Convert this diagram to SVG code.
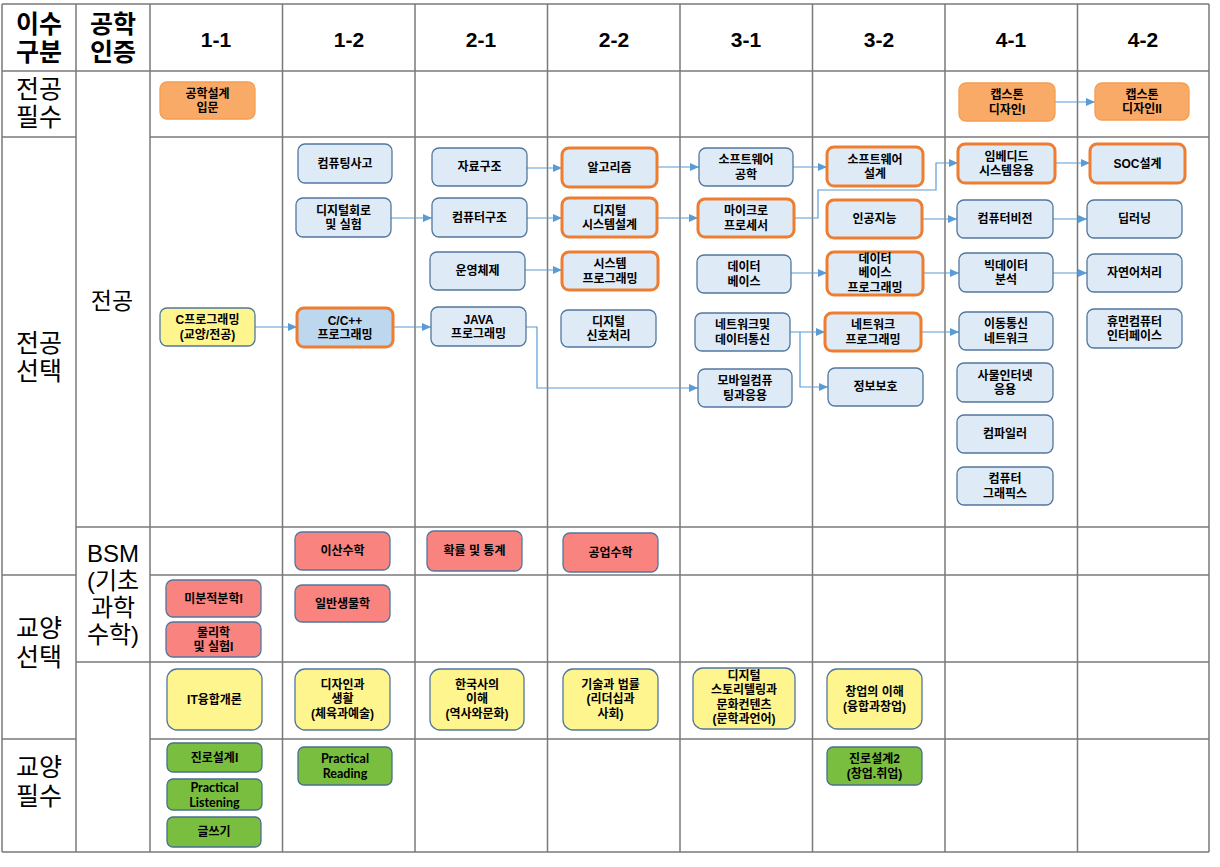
<svg xmlns="http://www.w3.org/2000/svg" width="1220" height="867" viewBox="0 0 1220 867">
<style>
.grid{stroke:#7a7a7a;stroke-width:1.5;fill:none}
.hdr{font-family:"Liberation Sans","Noto Sans CJK KR",sans-serif;font-weight:bold;fill:#000;text-anchor:middle}
.lbl{font-family:"Liberation Sans","Noto Sans CJK KR",sans-serif;font-weight:normal;fill:#000;text-anchor:middle}
.t{font-family:"Liberation Sans","Noto Sans CJK KR",sans-serif;font-weight:bold;font-size:12px;fill:#000;text-anchor:middle}
.te{font-family:Lato,"Liberation Sans",sans-serif;font-weight:bold;font-size:12.5px;fill:#000;text-anchor:middle}
.blue{fill:#DEEBF7;stroke:#52779E;stroke-width:1.3}
.blueo{fill:#DEEBF7;stroke:#ED7D31;stroke-width:3}
.cpp{fill:#BDD7EE;stroke:#ED7D31;stroke-width:3}
.req{fill:#F9AA66;stroke:#F59D50;stroke-width:1.3}
.yel{fill:#FFF58F;stroke:#52779E;stroke-width:1.3}
.red{fill:#F9837F;stroke:#52779E;stroke-width:1.3}
.grn{fill:#79BE3F;stroke:#4A6F8F;stroke-width:1.3}
.conn path{fill:none;stroke:#5B9BD5;stroke-width:1.2;marker-end:url(#arr)}
</style>
<defs>
<marker id="arr" markerUnits="userSpaceOnUse" markerWidth="9" markerHeight="8" refX="9" refY="4" orient="auto">
<path d="M0,0 L9,4 L0,8 z" fill="#5B9BD5"/>
</marker>
</defs>
<rect x="0" y="0" width="1220" height="867" fill="#fff"/>
<g id="grid">
<path class="grid" d="M2,4 H1209 M2,71 H1209 M2,137 H76 M150,137 H1209 M76,527 H1209 M2,575 H76 M150,575 H1209 M76,662 H1209 M2,739 H76 M150,739 H1209 M2,852 H1209"/>
<path class="grid" d="M2,4 V852 M76,4 V852 M150,4 V852 M282.5,4 V852 M415,4 V852 M547.5,4 V852 M680,4 V852 M812.5,4 V852 M945,4 V852 M1077.5,4 V852 M1209,4 V852"/>
</g>
<g id="headers">
<text class="hdr" font-size="25" x="39" y="33">이수</text>
<text class="hdr" font-size="25" x="39" y="61">구분</text>
<text class="hdr" font-size="25" x="113" y="33">공학</text>
<text class="hdr" font-size="25" x="113" y="61">인증</text>
<text class="hdr" font-size="21" x="216" y="47">1-1</text>
<text class="hdr" font-size="21" x="349" y="47">1-2</text>
<text class="hdr" font-size="21" x="481" y="47">2-1</text>
<text class="hdr" font-size="21" x="614" y="47">2-2</text>
<text class="hdr" font-size="21" x="746" y="47">3-1</text>
<text class="hdr" font-size="21" x="879" y="47">3-2</text>
<text class="hdr" font-size="21" x="1011" y="47">4-1</text>
<text class="hdr" font-size="21" x="1143" y="47">4-2</text>
</g>
<g id="row-labels">
<text class="lbl" font-size="25" x="39" y="98">전공</text>
<text class="lbl" font-size="25" x="39" y="126">필수</text>
<text class="lbl" font-size="25" x="39" y="352">전공</text>
<text class="lbl" font-size="25" x="39" y="380">선택</text>
<text class="lbl" font-size="25" x="39" y="637">교양</text>
<text class="lbl" font-size="25" x="39" y="666">선택</text>
<text class="lbl" font-size="25" x="39" y="776">교양</text>
<text class="lbl" font-size="25" x="39" y="805">필수</text>
<text class="lbl" font-size="23" x="112" y="309">전공</text>
<text class="lbl" font-size="24" x="113" y="562">BSM</text>
<text class="lbl" font-size="24" x="113" y="589">(기초</text>
<text class="lbl" font-size="24" x="113" y="616">과학</text>
<text class="lbl" font-size="24" x="113" y="643">수학)</text>
</g>
<g id="connectors" class="conn">
<path d="M1055,102 H1095"/>
<path d="M255,327 H297"/>
<path d="M391,218 H432"/>
<path d="M393,327 H431"/>
<path d="M527,168 H562"/>
<path d="M527,218 H562"/>
<path d="M525,270 H562"/>
<path d="M526,327 H537 V388 H698"/>
<path d="M657,167 H699"/>
<path d="M657,218 H698"/>
<path d="M793,167 H827"/>
<path d="M794,218 H818 V190 H936 V163 H958"/>
<path d="M791,273 H827"/>
<path d="M790,332 H825"/>
<path d="M800,332 V387 H828"/>
<path d="M922,219 H957"/>
<path d="M923,273 H959"/>
<path d="M921,332 H959"/>
<path d="M1055,163 H1090"/>
<path d="M1053,219 H1087"/>
<path d="M1053,273 H1087"/>
</g>
<g id="n01"><rect class="req" x="160" y="82" width="95" height="37" rx="7"/><text class="t"><tspan x="207.5" y="97.5">공학설계</tspan><tspan x="207.5" y="112">입문</tspan></text></g>
<g id="n02"><rect class="req" x="959" y="83" width="96" height="38" rx="7"/><text class="t"><tspan x="1007" y="99">캡스톤</tspan><tspan x="1007" y="113.5">디자인I</tspan></text></g>
<g id="n03"><rect class="req" x="1095" y="83" width="94" height="37" rx="7"/><text class="t"><tspan x="1142" y="98.5">캡스톤</tspan><tspan x="1142" y="113">디자인II</tspan></text></g>
<g id="n04"><rect class="yel" x="160" y="308" width="95" height="38" rx="7"/><text class="t"><tspan x="207.5" y="324">C프로그래밍</tspan><tspan x="207.5" y="338.5">(교양/전공)</tspan></text></g>
<g id="n05"><rect class="blue" x="298" y="144" width="94" height="39" rx="7"/><text class="t" x="345" y="167.8">컴퓨팅사고</text></g>
<g id="n06"><rect class="blue" x="296" y="198" width="95" height="39" rx="7"/><text class="t"><tspan x="343.5" y="214.5">디지털회로</tspan><tspan x="343.5" y="229">및 실험</tspan></text></g>
<g id="n07"><rect class="cpp" x="297" y="308" width="96" height="39" rx="7"/><text class="t"><tspan x="345" y="324.5">C/C++</tspan><tspan x="345" y="339">프로그래밍</tspan></text></g>
<g id="n08"><rect class="blue" x="432" y="148" width="95" height="38" rx="7"/><text class="t" x="479.5" y="171.3">자료구조</text></g>
<g id="n09"><rect class="blue" x="432" y="198" width="95" height="39" rx="7"/><text class="t" x="479.5" y="221.8">컴퓨터구조</text></g>
<g id="n10"><rect class="blue" x="430" y="252" width="95" height="38" rx="7"/><text class="t" x="477.5" y="275.3">운영체제</text></g>
<g id="n11"><rect class="blue" x="431" y="307" width="95" height="39" rx="7"/><text class="t"><tspan x="478.5" y="323.5">JAVA</tspan><tspan x="478.5" y="338">프로그래밍</tspan></text></g>
<g id="n12"><rect class="blueo" x="562" y="148" width="95" height="39" rx="7"/><text class="t" x="609.5" y="171.8">알고리즘</text></g>
<g id="n13"><rect class="blueo" x="562" y="198" width="95" height="39" rx="7"/><text class="t"><tspan x="609.5" y="214.5">디지털</tspan><tspan x="609.5" y="229">시스템설계</tspan></text></g>
<g id="n14"><rect class="blueo" x="562" y="252" width="96" height="38" rx="7"/><text class="t"><tspan x="610" y="268">시스템</tspan><tspan x="610" y="282.5">프로그래밍</tspan></text></g>
<g id="n15"><rect class="blue" x="561" y="310" width="95" height="37" rx="7"/><text class="t"><tspan x="608.5" y="325.5">디지털</tspan><tspan x="608.5" y="340">신호처리</tspan></text></g>
<g id="n16"><rect class="blue" x="699" y="148" width="94" height="38" rx="7"/><text class="t"><tspan x="746" y="164">소프트웨어</tspan><tspan x="746" y="178.5">공학</tspan></text></g>
<g id="n17"><rect class="blueo" x="698" y="199" width="96" height="38" rx="7"/><text class="t"><tspan x="746" y="215">마이크로</tspan><tspan x="746" y="229.5">프로세서</tspan></text></g>
<g id="n18"><rect class="blue" x="697" y="255" width="94" height="38" rx="7"/><text class="t"><tspan x="744" y="271">데이터</tspan><tspan x="744" y="285.5">베이스</tspan></text></g>
<g id="n19"><rect class="blue" x="695" y="313" width="95" height="38" rx="7"/><text class="t"><tspan x="742.5" y="329">네트워크및</tspan><tspan x="742.5" y="343.5">데이터통신</tspan></text></g>
<g id="n20"><rect class="blue" x="698" y="369" width="94" height="38" rx="7"/><text class="t"><tspan x="745" y="385">모바일컴퓨</tspan><tspan x="745" y="399.5">팅과응용</tspan></text></g>
<g id="n21"><rect class="blueo" x="827" y="147" width="96" height="39" rx="7"/><text class="t"><tspan x="875" y="163.5">소프트웨어</tspan><tspan x="875" y="178">설계</tspan></text></g>
<g id="n22"><rect class="blueo" x="827" y="200" width="95" height="38" rx="7"/><text class="t" x="874.5" y="223.3">인공지능</text></g>
<g id="n23"><rect class="blueo" x="827" y="252" width="96" height="43" rx="7"/><text class="t"><tspan x="875" y="262.8">데이터</tspan><tspan x="875" y="277.3">베이스</tspan><tspan x="875" y="291.8">프로그래밍</tspan></text></g>
<g id="n24"><rect class="blueo" x="825" y="313" width="96" height="38" rx="7"/><text class="t"><tspan x="873" y="329">네트워크</tspan><tspan x="873" y="343.5">프로그래밍</tspan></text></g>
<g id="n25"><rect class="blue" x="828" y="368" width="95" height="38" rx="7"/><text class="t" x="875.5" y="391.3">정보보호</text></g>
<g id="n26"><rect class="blueo" x="958" y="144" width="97" height="39" rx="7"/><text class="t"><tspan x="1006.5" y="160.5">임베디드</tspan><tspan x="1006.5" y="175">시스템응용</tspan></text></g>
<g id="n27"><rect class="blue" x="957" y="200" width="96" height="38" rx="7"/><text class="t" x="1005" y="223.3">컴퓨터비전</text></g>
<g id="n28"><rect class="blue" x="959" y="253" width="94" height="39" rx="7"/><text class="t"><tspan x="1006" y="269.5">빅데이터</tspan><tspan x="1006" y="284">분석</tspan></text></g>
<g id="n29"><rect class="blue" x="959" y="312" width="94" height="38" rx="7"/><text class="t"><tspan x="1006" y="328">이동통신</tspan><tspan x="1006" y="342.5">네트워크</tspan></text></g>
<g id="n30"><rect class="blue" x="957" y="363" width="96" height="39" rx="7"/><text class="t"><tspan x="1005" y="379.5">사물인터넷</tspan><tspan x="1005" y="394">응용</tspan></text></g>
<g id="n31"><rect class="blue" x="957" y="415" width="96" height="38" rx="7"/><text class="t" x="1005" y="438.3">컴파일러</text></g>
<g id="n32"><rect class="blue" x="957" y="467" width="96" height="38" rx="7"/><text class="t"><tspan x="1005" y="483">컴퓨터</tspan><tspan x="1005" y="497.5">그래픽스</tspan></text></g>
<g id="n33"><rect class="blueo" x="1090" y="144" width="95" height="39" rx="7"/><text class="t" x="1137.5" y="167.8">SOC설계</text></g>
<g id="n34"><rect class="blue" x="1087" y="200" width="95" height="38" rx="7"/><text class="t" x="1134.5" y="223.3">딥러닝</text></g>
<g id="n35"><rect class="blue" x="1087" y="254" width="95" height="38" rx="7"/><text class="t" x="1134.5" y="277.3">자연어처리</text></g>
<g id="n36"><rect class="blue" x="1087" y="309" width="95" height="39" rx="7"/><text class="t"><tspan x="1134.5" y="325.5">휴먼컴퓨터</tspan><tspan x="1134.5" y="340">인터페이스</tspan></text></g>
<g id="n37"><rect class="red" x="295" y="532" width="95" height="38" rx="7"/><text class="t" x="342.5" y="555.3">이산수학</text></g>
<g id="n38"><rect class="red" x="427" y="531" width="95" height="40" rx="7"/><text class="t" x="474.5" y="554.5">확률 및 통계</text></g>
<g id="n39"><rect class="red" x="563" y="533" width="95" height="39" rx="7"/><text class="t" x="610.5" y="556.8">공업수학</text></g>
<g id="n40"><rect class="red" x="166" y="580" width="95" height="37" rx="7"/><text class="t" x="213.5" y="602.8">미분적분학I</text></g>
<g id="n41"><rect class="red" x="166" y="622" width="95" height="35" rx="7"/><text class="t"><tspan x="213.5" y="636.5">물리학</tspan><tspan x="213.5" y="651">및 실험I</tspan></text></g>
<g id="n42"><rect class="red" x="295" y="585" width="95" height="37" rx="7"/><text class="t" x="342.5" y="607.8">일반생물학</text></g>
<g id="n43"><rect class="yel" x="167" y="669" width="95" height="61" rx="10"/><text class="t" x="214.5" y="703.8">IT융합개론</text></g>
<g id="n44"><rect class="yel" x="295" y="669" width="95" height="61" rx="10"/><text class="t"><tspan x="342.5" y="688.8">디자인과</tspan><tspan x="342.5" y="703.3">생활</tspan><tspan x="342.5" y="717.8">(체육과예술)</tspan></text></g>
<g id="n45"><rect class="yel" x="430" y="669" width="94" height="61" rx="10"/><text class="t"><tspan x="477" y="688.8">한국사의</tspan><tspan x="477" y="703.3">이해</tspan><tspan x="477" y="717.8">(역사와문화)</tspan></text></g>
<g id="n46"><rect class="yel" x="563" y="669" width="95" height="61" rx="10"/><text class="t"><tspan x="610.5" y="688.8">기술과 법률</tspan><tspan x="610.5" y="703.3">(리더십과</tspan><tspan x="610.5" y="717.8">사회)</tspan></text></g>
<g id="n47"><rect class="yel" x="693" y="668" width="102" height="61" rx="10"/><text class="t"><tspan x="744" y="679.5">디지털</tspan><tspan x="744" y="694">스토리텔링과</tspan><tspan x="744" y="708.5">문화컨텐츠</tspan><tspan x="744" y="723">(문학과언어)</tspan></text></g>
<g id="n48"><rect class="yel" x="827" y="669" width="95" height="60" rx="10"/><text class="t"><tspan x="874.5" y="696">창업의 이해</tspan><tspan x="874.5" y="710.5">(융합과창업)</tspan></text></g>
<g id="n49"><rect class="grn" x="167" y="743" width="95" height="29" rx="6"/><text class="t" x="214.5" y="761.8">진로설계I</text></g>
<g id="n50"><rect class="grn" x="167" y="779" width="95" height="31" rx="6"/><text class="te"><tspan x="214.5" y="791.5">Practical</tspan><tspan x="214.5" y="806.5">Listening</tspan></text></g>
<g id="n51"><rect class="grn" x="167" y="817" width="94" height="30" rx="6"/><text class="t" x="214" y="836.3">글쓰기</text></g>
<g id="n52"><rect class="grn" x="298" y="747" width="94" height="38" rx="6"/><text class="te"><tspan x="345" y="763">Practical</tspan><tspan x="345" y="778">Reading</tspan></text></g>
<g id="n53"><rect class="grn" x="827" y="747" width="95" height="38" rx="6"/><text class="t"><tspan x="874.5" y="763">진로설계2</tspan><tspan x="874.5" y="777.5">(창업.취업)</tspan></text></g>
</svg>
